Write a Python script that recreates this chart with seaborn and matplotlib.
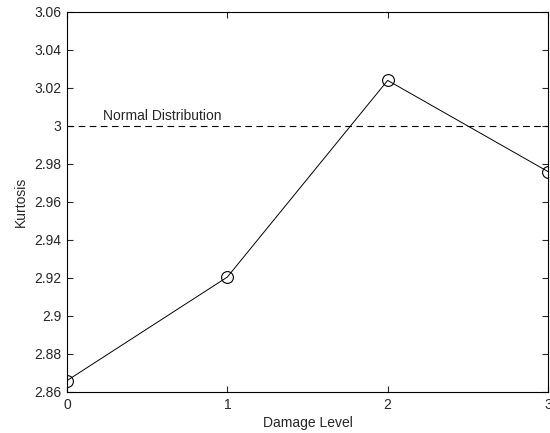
import matplotlib
matplotlib.use("Agg")
import matplotlib.pyplot as plt
import seaborn as sns
import pandas as pd

damage_level = [0, 1, 2, 3]
kurtosis = [2.866, 2.9205, 3.024, 2.976]
normal_kurtosis = 3.0
y_ticks = [2.86, 2.88, 2.9, 2.92, 2.94, 2.96, 2.98, 3, 3.02, 3.04, 3.06]
y_tick_labels = ["2.86", "2.88", "2.9", "2.92", "2.94", "2.96", "2.98", "3", "3.02", "3.04", "3.06"]
x_ticks = [0, 1, 2, 3]

sns.set_style("ticks")
plt.rcParams["font.family"] = ["Liberation Sans", "DejaVu Sans"]

df = pd.DataFrame({"Damage Level": damage_level, "Kurtosis": kurtosis})

fig = plt.figure(figsize=(5.5, 4.33), dpi=100)
ax = fig.add_axes([67 / 550, 41 / 433, 481 / 550, 380 / 433])

sns.lineplot(data=df, x="Damage Level", y="Kurtosis", ax=ax, color="black",
             linewidth=0.7, marker="o", markersize=8.5, markerfacecolor="none",
             markeredgecolor="black", markeredgewidth=0.8)
ax.axhline(normal_kurtosis, color="black", linestyle=(0, (6, 4)), linewidth=0.8)
ax.text(0.225, normal_kurtosis + 0.003, "Normal Distribution", fontsize=10)

ax.set_xlim(0, 3)
ax.set_ylim(2.86, 3.06)
ax.set_xticks(x_ticks)
ax.set_xticklabels([str(v) for v in x_ticks])
ax.set_yticks(y_ticks)
ax.set_yticklabels(y_tick_labels)
ax.tick_params(direction="in", length=4, width=0.8, labelsize=10, top=True, right=True, pad=4)
for s in ax.spines.values():
    s.set_visible(True)
    s.set_linewidth(0.8)
    s.set_color("black")
ax.set_xlabel("Damage Level", fontsize=10, labelpad=3)
ax.set_ylabel("Kurtosis", fontsize=10, labelpad=5)

fig.savefig("out.png", dpi=100)
